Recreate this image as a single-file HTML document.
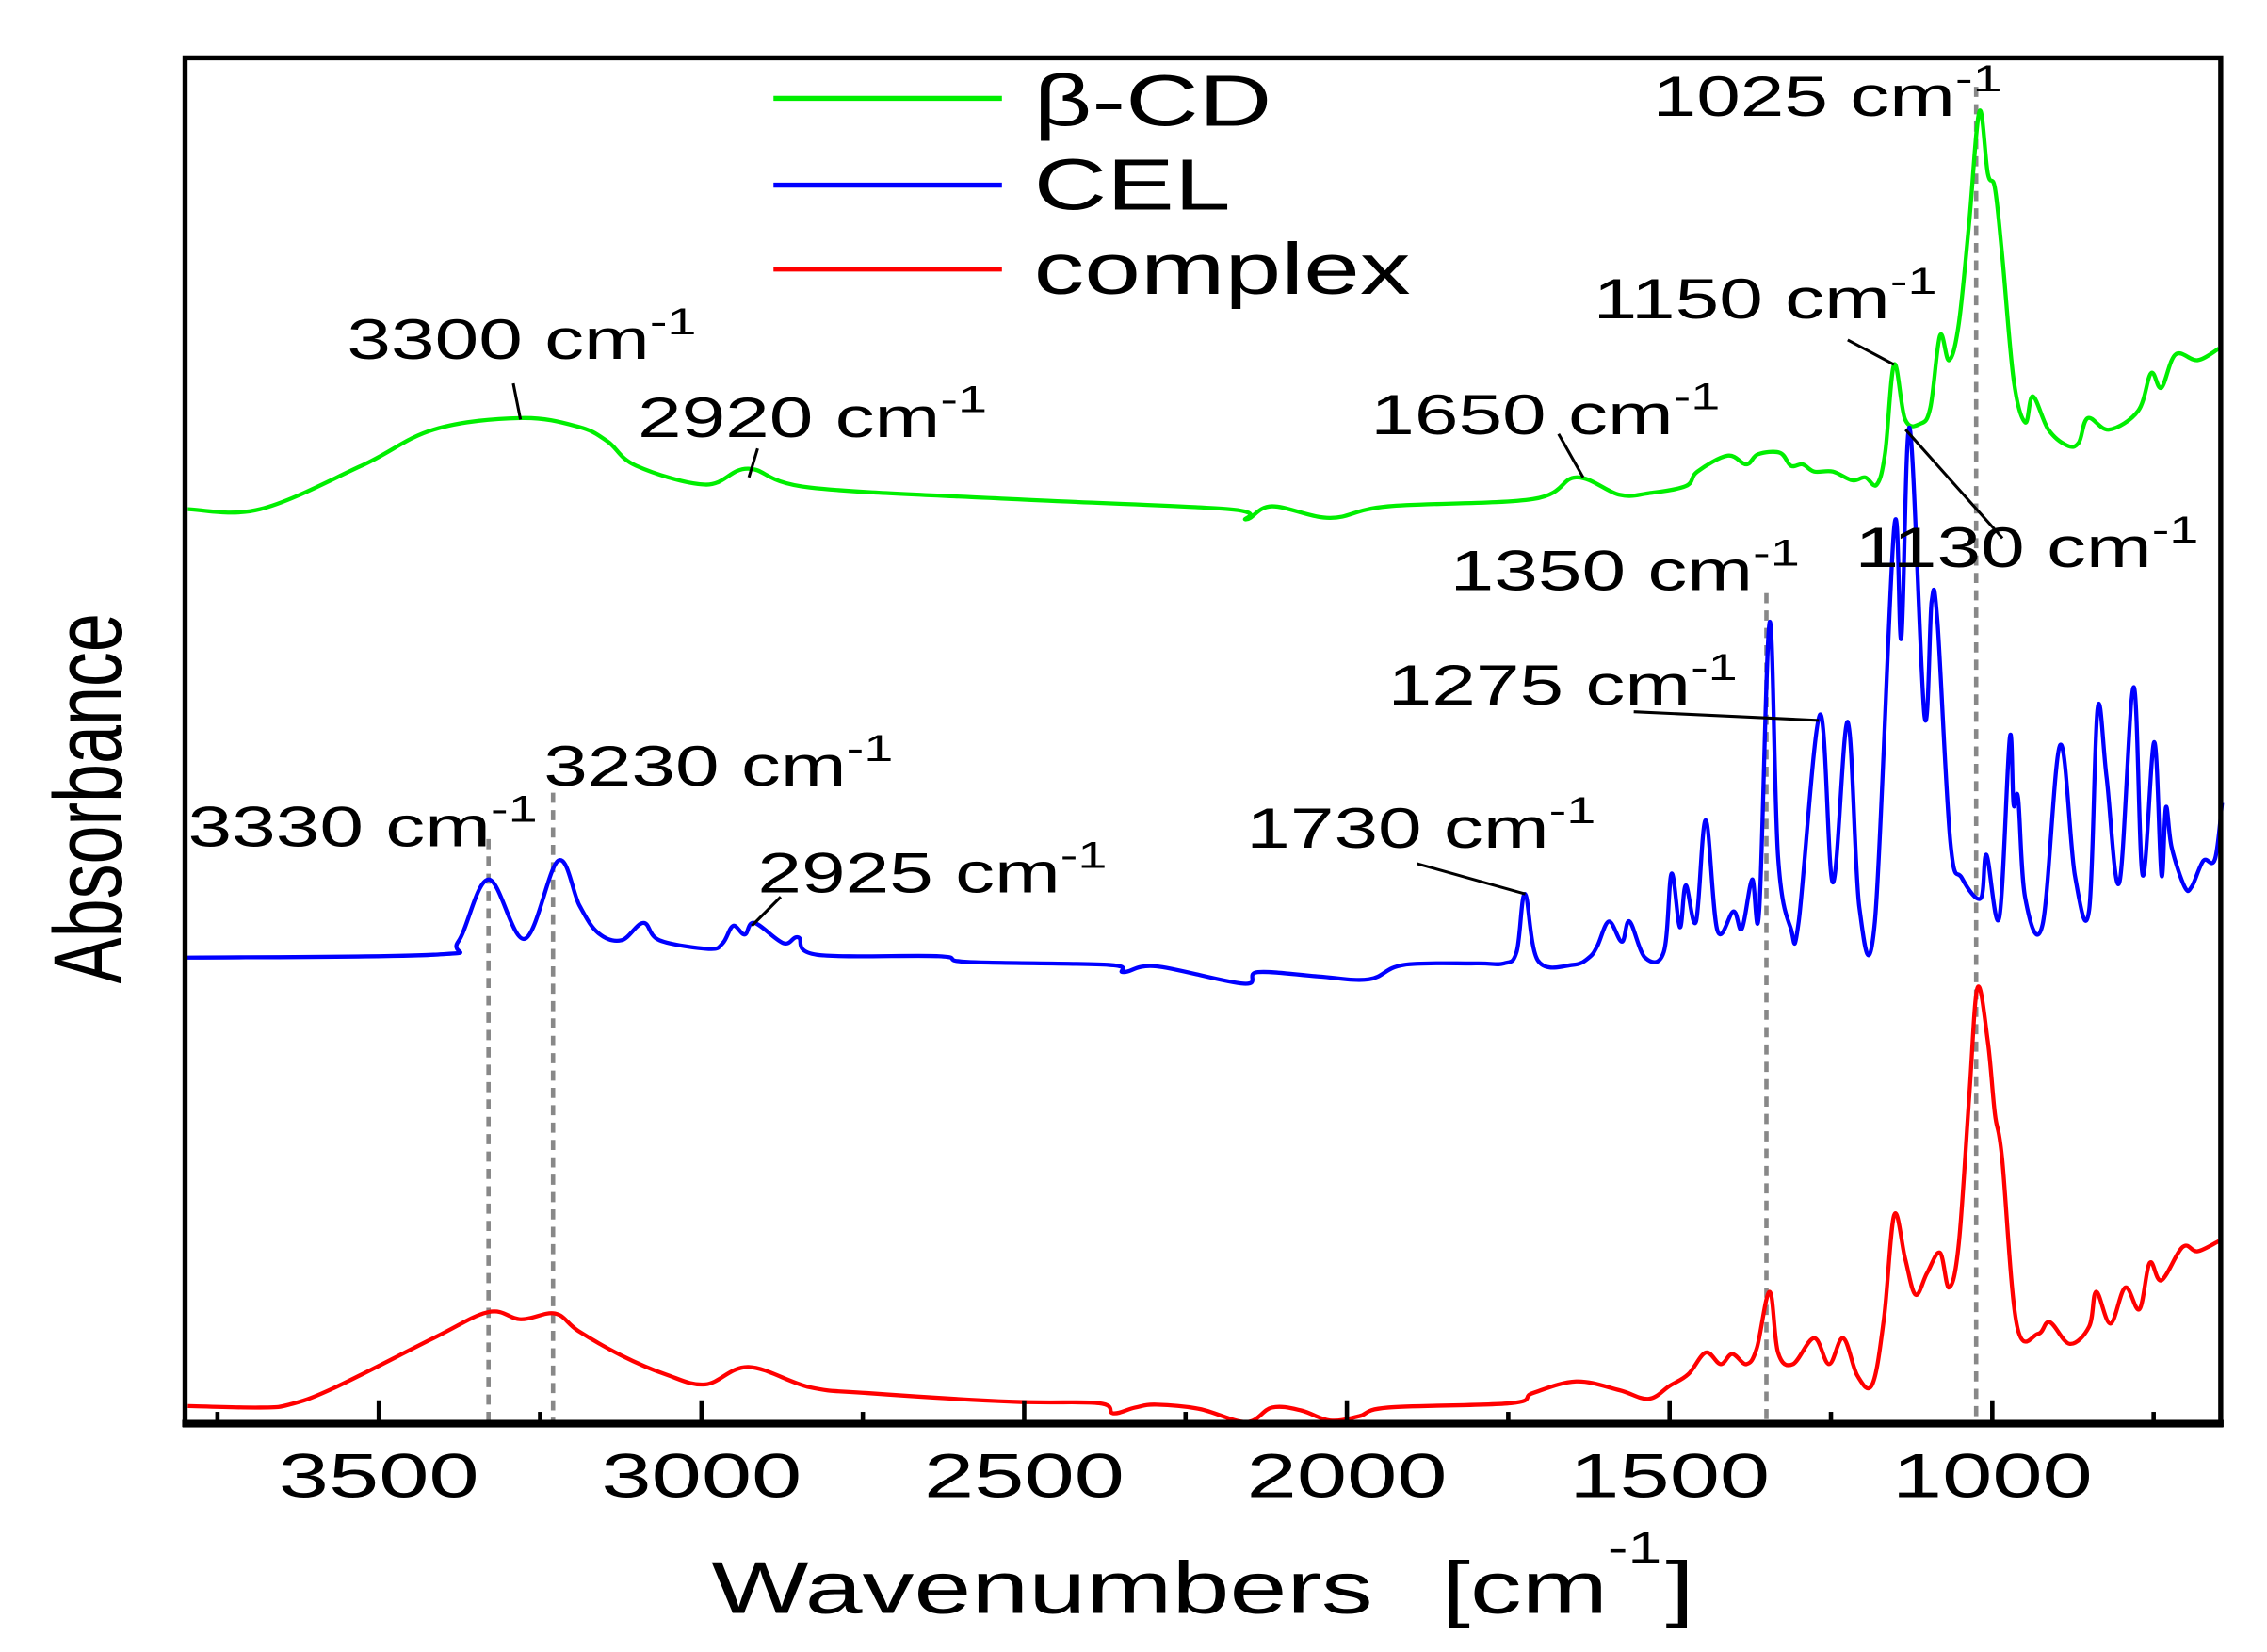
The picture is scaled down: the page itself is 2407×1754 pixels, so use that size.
<!DOCTYPE html>
<html><head><meta charset="utf-8"><style>
html,body{margin:0;padding:0;background:#fff;}
svg{display:block;font-family:"Liberation Sans",Arial,sans-serif;}
</style></head><body>
<svg id="chart" width="2407" height="1754" viewBox="0 0 1568 1142" preserveAspectRatio="none" xmlns="http://www.w3.org/2000/svg">
<rect x="0" y="0" width="1568" height="1142" fill="#fff"/>
<g id="dashes"></g>
<g id="curves"></g>
<g id="axes"></g>
<g id="leaders" stroke="#000" stroke-width="2">
<line x1="355" y1="265" x2="360" y2="290"/>
<line x1="524" y1="310" x2="518" y2="330"/>
<line x1="1078" y1="300" x2="1095" y2="330"/>
<line x1="1278" y1="235" x2="1310" y2="252"/>
<line x1="1318" y1="297" x2="1385" y2="372"/>
<line x1="1130" y1="492" x2="1258" y2="498"/>
<line x1="980" y1="597" x2="1055" y2="618"/>
<line x1="540" y1="620" x2="520" y2="640"/>
</g>
<g font-size="39" fill="#000">
<g transform="translate(1143,80) scale(1.4,1)"><text>1025 cm<tspan dy="-17" font-size="26">-1</tspan></text></g>
<g transform="translate(240,248) scale(1.4,1)"><text>3300 cm<tspan dy="-17" font-size="26">-1</tspan></text></g>
<g transform="translate(441,302) scale(1.4,1)"><text>2920 cm<tspan dy="-17" font-size="26">-1</tspan></text></g>
<g transform="translate(948,300) scale(1.4,1)"><text>1650 cm<tspan dy="-17" font-size="26">-1</tspan></text></g>
<g transform="translate(1102,220) scale(1.4,1)"><text>1150 cm<tspan dy="-17" font-size="26">-1</tspan></text></g>
<g transform="translate(1283,392) scale(1.4,1)"><text>1130 cm<tspan dy="-17" font-size="26">-1</tspan></text></g>
<g transform="translate(1003,408) scale(1.4,1)"><text>1350 cm<tspan dy="-17" font-size="26">-1</tspan></text></g>
<g transform="translate(960,487) scale(1.4,1)"><text>1275 cm<tspan dy="-17" font-size="26">-1</tspan></text></g>
<g transform="translate(376,543) scale(1.4,1)"><text>3230 cm<tspan dy="-17" font-size="26">-1</tspan></text></g>
<g transform="translate(130,585) scale(1.4,1)"><text>3330 cm<tspan dy="-17" font-size="26">-1</tspan></text></g>
<g transform="translate(524,617) scale(1.4,1)"><text>2925 cm<tspan dy="-17" font-size="26">-1</tspan></text></g>
<g transform="translate(862,586) scale(1.4,1)"><text>1730 cm<tspan dy="-17" font-size="26">-1</tspan></text></g>
</g>
<g font-size="50">
<line x1="535" y1="68" x2="693" y2="68" stroke="#00ee00" stroke-width="3.5"/>
<line x1="535" y1="128" x2="693" y2="128" stroke="#0000ff" stroke-width="3.5"/>
<line x1="535" y1="186" x2="693" y2="186" stroke="#ff0000" stroke-width="3.5"/>
<g transform="translate(715,87) scale(1.4,1)"><text>β-CD</text></g>
<g transform="translate(715,145) scale(1.4,1)"><text>CEL</text></g>
<g transform="translate(715,203) scale(1.4,1)"><text>complex</text></g>
</g>
<g font-size="51">
<g transform="translate(492,1115) scale(1.4,1)"><text>Wavenumbers</text></g>
<g transform="translate(997,1115) scale(1.4,1)"><text>[cm</text></g>
<g transform="translate(1112,1080) scale(1.4,1)"><text font-size="30">-1</text></g>
<g transform="translate(1152,1115) scale(1.4,1)"><text>]</text></g>
</g>
<g transform="translate(84,552) scale(1.4,1) rotate(-90)"><text font-size="48" text-anchor="middle">Absorbance</text></g>
</svg>
<script>
const bcdWave=[3796,3684,3527,3415,3280,3191,3146,3101,2994,2927,2832,2519,2183,2156,2116,2026,1936,1712,1645,1578,1533,1475,1457,1410,1381,1363,1329,1312,1294,1276,1247,1217,1197,1179,1166,1152,1135,1112,1096,1081,1067,1052,1036,1020,1007,996,985,967,949,937,913,884,866,852,819,774,754,738,716,682,649];
const bcdAbs=[63.3,63.3,66.3,68.8,69.6,69.0,68.0,66.3,65.0,66.1,64.8,64.0,63.3,62.6,63.5,62.7,63.5,64.0,65.5,64.3,64.4,64.9,65.9,67.0,66.4,67.1,67.2,66.3,66.4,65.9,65.9,65.3,65.5,65.0,67.2,73.3,69.5,69.2,70.3,75.3,73.6,76.1,83.0,90.8,86.5,85.5,81.0,72.3,69.3,71.1,68.8,67.7,67.9,69.6,68.8,70.1,72.7,71.7,74.0,73.6,74.4];
const celWave=[3800,3415,3377,3330,3274,3222,3189,3160,3124,3090,3065,2989,2967,2951,2933,2918,2873,2850,2821,2633,2586,2369,2346,2295,2160,2138,2044,1966,1912,1800,1757,1737,1724,1704,1650,1625,1612,1594,1574,1562,1538,1509,1497,1484,1475,1459,1444,1426,1401,1388,1372,1361,1345,1332,1312,1300,1267,1247,1224,1206,1182,1152,1141,1128,1105,1094,1085,1065,1047,1018,1009,989,973,967,960,949,922,895,872,850,837,823,803,781,767,749,738,731,722,702,691,673,655,644];
const celAbs=[32.3,32.5,33.4,37.7,33.6,39.0,35.9,34.0,33.5,34.7,33.5,32.9,33.3,34.5,33.9,34.7,33.3,33.7,32.5,32.4,32.0,31.8,31.3,31.7,30.5,31.3,31.0,30.8,31.8,31.9,31.9,32.7,36.7,32.1,31.8,32.3,33.1,34.8,33.4,34.8,32.3,32.7,38.1,34.4,37.3,34.8,41.8,34.2,35.5,34.3,37.7,35.6,55.5,39.3,34.3,34.8,49.1,37.5,48.6,35.8,34.8,62.0,54.4,68.9,49.0,56.9,55.5,40.3,37.8,36.4,39.4,35.1,47.5,42.9,43.3,36.4,34.6,47.0,38.0,35.6,49.5,44.8,37.5,51.0,38.0,47.2,38.0,42.7,39.9,37.2,37.2,39.0,39.1,43.0];
const cpxWave=[3796,3684,3639,3572,3415,3330,3280,3227,3191,3124,3056,2994,2927,2832,2743,2519,2384,2362,2328,2295,2228,2156,2116,2071,2026,1981,1936,1746,1712,1645,1578,1533,1500,1471,1444,1421,1403,1381,1365,1345,1332,1309,1276,1253,1231,1209,1186,1168,1152,1135,1119,1101,1081,1067,1052,1036,1023,1007,996,985,962,929,911,880,850,839,817,794,772,756,738,705,682,649];
const cpxAbs=[1.3,1.2,1.4,2.5,6.0,7.8,7.3,7.7,6.5,4.8,3.5,2.8,4.0,2.6,2.2,1.6,1.5,0.8,1.2,1.4,1.1,0.2,1.2,1.0,0.3,0.6,1.2,1.5,2.2,3.0,2.4,1.8,2.7,3.5,5.0,4.2,4.9,4.2,5.3,9.2,5.0,4.2,6.0,4.2,6.0,3.4,2.8,7.3,14.5,11.5,9.0,10.5,11.9,9.5,12.5,22.5,30.2,26.5,21.5,18.5,6.9,6.3,7.1,5.6,6.8,9.2,7.0,9.5,8.0,11.2,10.0,12.3,12.0,12.7];
const majorTicks=[3500,3000,2500,2000,1500,1000];
const minorTicks=[3750,3250,2750,2250,1750,1250,750];
const tickLabels=["3500","3000","2500","2000","1500","1000"];
const markerWaves=[3330,3230,1350,1025];
const markerTops=[580,548,410,60];

const NS="http://www.w3.org/2000/svg";
function xs(w){return 262+(3500-w)*0.4464;}
function ys(a){return 985-a*10;}
function mk(tag,attrs,parent){const e=document.createElementNS(NS,tag);for(const k in attrs)e.setAttribute(k,attrs[k]);parent.appendChild(e);return e;}

const dashes=document.getElementById('dashes');
markerWaves.forEach((w,i)=>{
  const l=mk('line',{x1:xs(w),x2:xs(w),y1:markerTops[i],y2:985,stroke:'#888',"stroke-width":3,"stroke-dasharray":"7,5"},dashes);
  
  
});

const curves=document.getElementById('curves');
function series(wv,ab,color,name){
  const P=wv.map((w,i)=>[xs(w),ys(ab[i])]);
  let d='M'+P[0][0].toFixed(1)+','+P[0][1].toFixed(1);
  const t=0.35;
  for(let i=0;i<P.length-1;i++){
    const p0=P[Math.max(0,i-1)],p1=P[i],p2=P[i+1],p3=P[Math.min(P.length-1,i+2)];
    const c1=[p1[0]+(p2[0]-p0[0])*t/2,p1[1]+(p2[1]-p0[1])*t/2];
    const c2=[p2[0]-(p3[0]-p1[0])*t/2,p2[1]-(p3[1]-p1[1])*t/2];
    d+='C'+c1[0].toFixed(1)+','+c1[1].toFixed(1)+' '+c2[0].toFixed(1)+','+c2[1].toFixed(1)+' '+p2[0].toFixed(1)+','+p2[1].toFixed(1);
  }
  const p=mk('path',{d:d,fill:'none',stroke:color,"stroke-width":2.8,"stroke-linejoin":"round"},curves);
  
  
}
series(bcdWave,bcdAbs,'#00ee00','series-bcd');
series(celWave,celAbs,'#0000ff','series-cel');
series(cpxWave,cpxAbs,'#ff0000','series-complex');

const axes=document.getElementById('axes');
const frame=mk('rect',{x:128,y:40,width:1408,height:945,fill:'none',stroke:'#000',"stroke-width":3.5},axes);


const bottom=mk('line',{x1:126,x2:1538,y1:984,y2:984,stroke:'#000',"stroke-width":5},axes);


majorTicks.forEach((w,i)=>{
  const t=mk('line',{x1:xs(w),x2:xs(w),y1:985,y2:968,stroke:'#000',"stroke-width":3},axes);
  
  
  const g=mk('g',{transform:'translate('+xs(w)+',1035) scale(1.45,1)'},axes);
  const tx=mk('text',{"text-anchor":"middle","font-size":43},g);
  tx.textContent=tickLabels[i];
  
  
});
minorTicks.forEach(w=>{
  const t=mk('line',{x1:xs(w),x2:xs(w),y1:985,y2:976,stroke:'#000',"stroke-width":3},axes);
  
  
});
</script>
</body></html>
